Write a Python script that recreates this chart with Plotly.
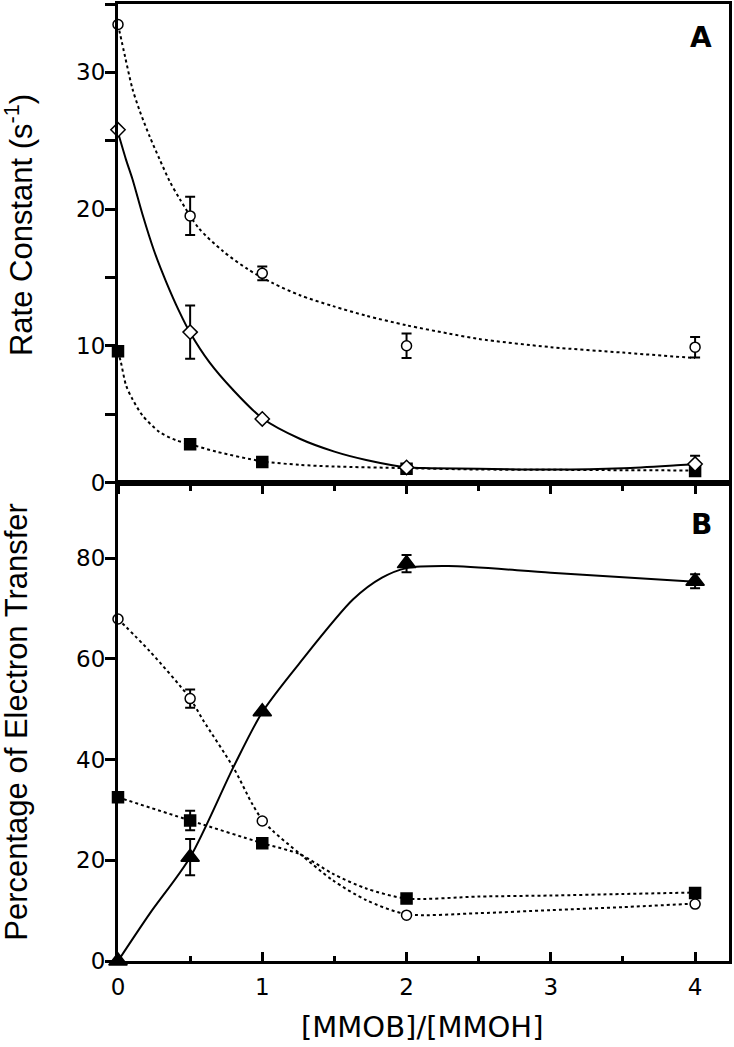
import plotly.graph_objects as go

# ---------------- data ----------------
x_pts = [0, 0.5, 1, 2, 4]

# Panel A: rate constants (s^-1)
a_circle = [33.5, 19.5, 15.3, 10.0, 9.9]
a_circle_err = [None, 1.4, 0.5, 0.9, 0.75]
a_diamond = [25.8, 11.0, 4.65, 1.1, 1.35]
a_diamond_err = [None, 1.95, None, None, 0.6]
a_square = [9.6, 2.8, 1.5, 1.0, 0.85]

# Panel A fitted curves
a_circle_fit_x = [0, 0.05, 0.1, 0.15, 0.22, 0.29, 0.36, 0.43, 0.56, 0.73, 0.9, 1.07, 1.26, 1.49, 1.72, 2.0, 2.29, 2.5, 3.0, 3.5, 4.0]
a_circle_fit_y = [33.5, 31.1, 28.8, 27.2, 25.3, 23.6, 22.0, 20.7, 18.6, 16.9, 15.6, 14.6, 13.7, 12.9, 12.2, 11.5, 10.9, 10.5, 9.9, 9.5, 9.1]
a_diamond_fit_x = [0, 0.056, 0.1, 0.17, 0.25, 0.333, 0.425, 0.5, 0.633, 0.795, 1.0, 1.26, 1.5, 1.72, 2.0, 2.16, 2.5, 3.0, 3.5, 3.9, 4.0]
a_diamond_fit_y = [25.6, 23.6, 22.2, 19.6, 16.95, 14.7, 12.5, 10.95, 8.8, 6.8, 4.7, 3.2, 2.26, 1.65, 1.12, 1.05, 1.0, 0.95, 1.05, 1.28, 1.34]
a_square_fit_x = [0, 0.02, 0.056, 0.1, 0.17, 0.287, 0.4, 0.5, 0.68, 1.0, 1.26, 1.5, 2.0, 2.5, 3.0, 3.5, 4.0]
a_square_fit_y = [9.6, 8.8, 7.1, 6.1, 4.9, 3.7, 3.1, 2.8, 2.26, 1.55, 1.29, 1.17, 1.05, 0.95, 0.93, 0.9, 0.88]

# Panel B: percentage of electron transfer
b_triangle = [0, 20.6, 49.5, 78.9, 75.4]
b_triangle_err = [None, 3.6, None, 1.7, 1.4]
b_circle = [67.9, 52.1, 27.8, 9.1, 11.3]
b_circle_err = [None, 1.8, None, None, None]
b_square = [32.5, 27.9, 23.4, 12.4, 13.5]
b_square_err = [None, 1.95, None, None, None]

# Panel B curves
b_triangle_fit_x = [0, 0.22, 0.5, 0.8, 1.0, 1.26, 1.63, 1.83, 2.0, 2.29, 3.0, 4.0]
b_triangle_fit_y = [0, 9.4, 20.6, 38.5, 49.4, 59.2, 71.8, 76.1, 78.0, 78.4, 77.1, 75.3]
b_circle_fit_x = [0, 0.22, 0.5, 0.59, 0.8, 0.93, 1.0, 1.07, 1.26, 1.49, 1.72, 2.0, 2.5, 3.0, 3.5, 4.0]
b_circle_fit_y = [67.9, 61.5, 52.1, 47.8, 38.4, 31.2, 28.0, 25.9, 21.3, 16.0, 12.1, 9.3, 9.5, 10.1, 10.7, 11.4]
b_square_fit_x = [0, 0.5, 1.0, 1.26, 1.49, 1.72, 2.0, 2.5, 3.0, 3.5, 4.0]
b_square_fit_y = [32.5, 27.9, 23.4, 21.2, 17.3, 14.4, 12.4, 12.8, 13.0, 13.3, 13.6]

x_ticks = [0, 1, 2, 3, 4]

FONT = "Liberation Sans, Arial, sans-serif"
WIDE = "DejaVu Sans, Liberation Sans, sans-serif"

fig = go.Figure()


def curve(x, y, dash, xa, ya):
    fig.add_trace(go.Scatter(
        x=x, y=y, mode="lines", xaxis=xa, yaxis=ya, cliponaxis=False,
        line=dict(color="black", width=2, dash=dash, shape="spline", smoothing=0.8),
        hoverinfo="skip", showlegend=False))


def points(y, err, symbol, size, filled, xa, ya):
    kw = {}
    if err is not None:
        kw["error_y"] = dict(type="data", array=err, visible=True, color="black",
                             thickness=2, width=5)
    fig.add_trace(go.Scatter(
        x=x_pts, y=y, mode="markers", xaxis=xa, yaxis=ya, cliponaxis=False,
        marker=dict(symbol=symbol, size=size, color="black" if filled else "white",
                    line=dict(color="black", width=1.5)),
        showlegend=False, **kw))


DOT = "3px,3px"
# Panel A (top): xaxis x2, yaxis y
curve(a_circle_fit_x, a_circle_fit_y, DOT, "x2", "y")
curve(a_diamond_fit_x, a_diamond_fit_y, "solid", "x2", "y")
curve(a_square_fit_x, a_square_fit_y, DOT, "x2", "y")
points(a_square, None, "square", 11, True, "x2", "y")
points(a_diamond, a_diamond_err, "diamond", 11, False, "x2", "y")
points(a_circle, a_circle_err, "circle", 10, False, "x2", "y")

# Panel B (bottom): xaxis x, yaxis y2
curve(b_triangle_fit_x, b_triangle_fit_y, "solid", "x", "y2")
curve(b_circle_fit_x, b_circle_fit_y, DOT, "x", "y2")
curve(b_square_fit_x, b_square_fit_y, DOT, "x", "y2")
points(b_square, b_square_err, "square", 11, True, "x", "y2")
points(b_circle, b_circle_err, "circle", 10, False, "x", "y2")
points(b_triangle, b_triangle_err, "triangle-up", 16, True, "x", "y2")

common = dict(showline=True, linewidth=3, linecolor="black", mirror=True,
              showgrid=False, zeroline=False, tickwidth=3, tickcolor="black",
              tickfont=dict(family=WIDE, size=23, color="black"))

fig.update_layout(
    width=734, height=1047,
    margin=dict(l=118, r=5, t=1, b=86),
    plot_bgcolor="white", paper_bgcolor="white",
    showlegend=False,
    font=dict(family=FONT, size=23, color="black"),
    xaxis=dict(domain=[0, 1], anchor="y2", range=[0, 4.235], tickmode="array",
               tickvals=x_ticks, ticks="inside", ticklen=9, ticklabelstandoff=3,
               minor=dict(dtick=0.5, tick0=0, ticks="inside", ticklen=5,
                          tickwidth=3, tickcolor="black"),
               **common),
    xaxis2=dict(domain=[0, 1], anchor="y", matches="x", range=[0, 4.235],
                tickmode="array", tickvals=x_ticks, showticklabels=False,
                ticks="outside", ticklen=8,
                minor=dict(dtick=0.5, tick0=0, ticks="outside", ticklen=5,
                           tickwidth=3, tickcolor="black"),
                **common),
    yaxis=dict(domain=[0.5, 1], anchor="x2", range=[0, 35], tick0=0, dtick=10,
               ticks="outside", ticklen=10, ticklabelstandoff=-5,
               minor=dict(dtick=5, tick0=0, ticks="outside", ticklen=10,
                          tickwidth=3, tickcolor="black"),
               **common),
    yaxis2=dict(domain=[0, 0.5], anchor="x", range=[0, 95], tick0=0, dtick=20,
                ticks="outside", ticklen=10, ticklabelstandoff=-5, **common),
)

annotations = [
    dict(text="Rate Constant (s<sup>-1</sup>)", xref="paper", yref="paper",
         x=0, y=0.769, xanchor="center", yanchor="middle", xshift=-99,
         textangle=-90, showarrow=False, font=dict(family=FONT, size=31)),
    dict(text="Percentage of Electron Transfer", xref="paper", yref="paper",
         x=0, y=0.25, xanchor="center", yanchor="middle", xshift=-101,
         textangle=-90, showarrow=False, font=dict(family=FONT, size=31)),
    dict(text="[MMOB]/[MMOH]", xref="paper", yref="paper",
         x=0.497, y=0, xanchor="center", yanchor="top", yshift=-47,
         showarrow=False, font=dict(family=WIDE, size=29)),
    dict(text="<b>A</b>", xref="paper", yref="paper", x=0.954, y=0.965,
         xanchor="center", yanchor="middle", showarrow=False,
         font=dict(family=WIDE, size=28)),
    dict(text="<b>B</b>", xref="paper", yref="paper", x=0.955, y=0.456,
         xanchor="center", yanchor="middle", showarrow=False,
         font=dict(family=WIDE, size=28)),
]
fig.update_layout(annotations=annotations)

fig.write_html("out.html", config={"displayModeBar": False},
               post_script="document.body.style.margin='0px';")
